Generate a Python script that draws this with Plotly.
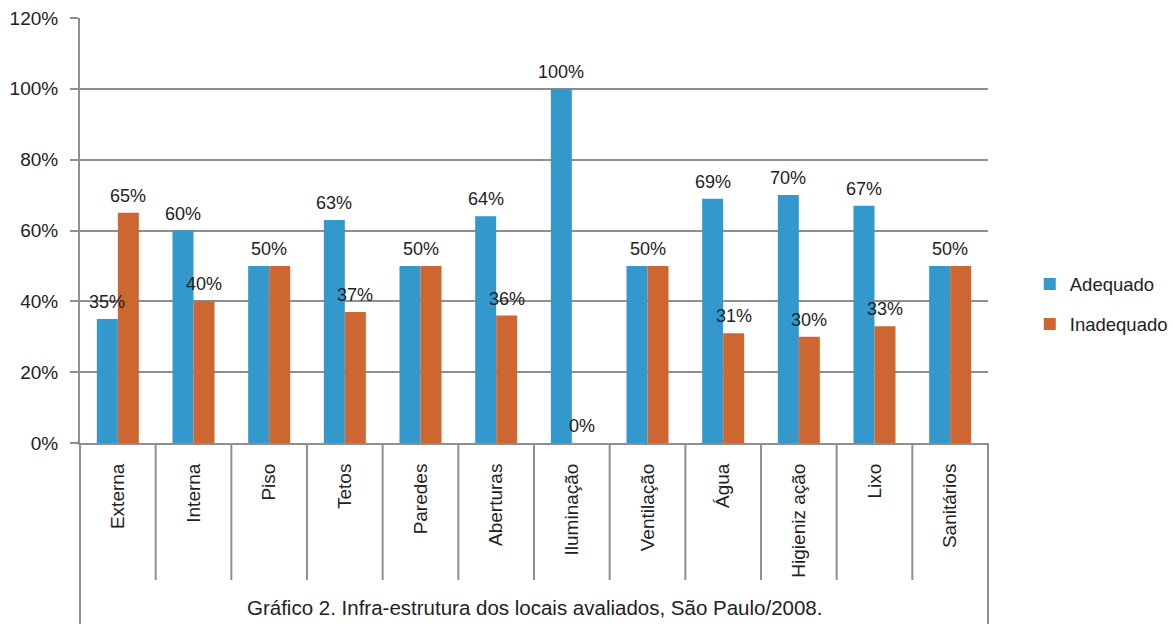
import plotly.graph_objects as go

categories = ["Externa", "Interna", "Piso", "Tetos", "Paredes", "Aberturas", "Iluminação",
              "Ventilação", "Água", "Higieniz ação", "Lixo", "Sanitários"]
adequado = [35, 60, 50, 63, 50, 64, 100, 50, 69, 70, 67, 50]
inadequado = [65, 40, 50, 37, 50, 36, 0, 50, 31, 30, 33, 50]
series_names = ["Adequado", "Inadequado"]
y_ticks = [0, 20, 40, 60, 80, 100, 120]
y_tick_labels = [f"{v}%" for v in y_ticks]
caption = "Gráfico 2. Infra-estrutura dos locais avaliados, São Paulo/2008."

BLUE = "#3398CB"
ORANGE = "#CD6631"
GRID = "#8F8F8F"
TXT = "#222222"
FONT = "Liberation Sans, Arial, sans-serif"
FS = 19

fig = go.Figure()
fig.add_trace(go.Bar(x=categories, y=adequado, name=series_names[0], marker_color=BLUE,
                     marker_line_width=0, legendgroup="a"))
fig.add_trace(go.Bar(x=categories, y=inadequado, name=series_names[1], marker_color=ORANGE,
                     marker_line_width=0, legendgroup="b"))

# plot geometry (pixels)
L, R, T, B = 80, 184, 18, 181
W = 1172 - L - R
H = 624 - T - B
BARGAP = 0.445
cat_w = W / len(categories)
bar_w = cat_w * (1 - BARGAP) / 2

lab_font = dict(size=18, color=TXT, family=FONT)
LSHIFT = 17
annotations = []
for i, c in enumerate(categories):
    a, b = adequado[i], inadequado[i]
    if a == b:
        annotations.append(dict(x=c, y=a, text=f"{a}%", showarrow=False, xref="x", yref="y",
                                yanchor="middle", yshift=LSHIFT, font=lab_font))
    else:
        annotations.append(dict(x=c, y=a, text=f"{a}%", showarrow=False, xref="x", yref="y",
                                xshift=-bar_w / 2, yanchor="middle", yshift=LSHIFT, font=lab_font))
        annotations.append(dict(x=c, y=b, text=f"{b}%", showarrow=False, xref="x", yref="y",
                                xshift=bar_w / 2, yanchor="middle", yshift=LSHIFT, font=lab_font))

annotations.append(dict(x=0.5, y=-(607 - (T + H)) / H, xref="paper", yref="paper", text=caption,
                        showarrow=False, yanchor="middle", xanchor="center",
                        font=dict(size=20.5, color=TXT, family=FONT)))

shapes = []
sep_len = 137 / H
for i in range(len(categories) - 1):
    shapes.append(dict(type="line", xref="x", yref="paper", x0=i + 0.5, x1=i + 0.5,
                       y0=0, y1=-sep_len, line=dict(color=GRID, width=2)))
for xp in (0, 1):
    shapes.append(dict(type="line", xref="paper", yref="paper", x0=xp, x1=xp,
                       y0=0, y1=-0.6, line=dict(color=GRID, width=2)))

fig.update_layout(
    width=1172, height=624,
    margin=dict(l=L, r=R, t=T, b=B, autoexpand=False),
    paper_bgcolor="white", plot_bgcolor="white",
    barmode="group", bargap=BARGAP, bargroupgap=0,
    font=dict(family=FONT, size=FS, color=TXT),
    showlegend=True,
    legend=dict(x=1.046, y=0.326, xanchor="left", yanchor="middle", tracegroupgap=13,
                traceorder="grouped", font=dict(size=18.5, color=TXT, family=FONT),
                itemwidth=30, bgcolor="rgba(0,0,0,0)"),
    annotations=annotations,
    shapes=shapes,
    xaxis=dict(type="category", tickangle=-90, showline=True, linecolor=GRID, linewidth=2,
               ticks="", showgrid=False, tickfont=dict(size=FS, color=TXT, family=FONT),
               ticklabelstandoff=11, automargin=False),
    yaxis=dict(range=[0, 120], tickvals=y_ticks, ticktext=y_tick_labels, showgrid=True,
               gridcolor=GRID, gridwidth=2, zeroline=False, showline=True, linecolor=GRID,
               linewidth=2, ticks="outside", ticklen=8, tickwidth=2, tickcolor=GRID,
               ticklabelstandoff=8, tickfont=dict(size=FS, color=TXT, family=FONT),
               automargin=False),
)

fig.write_html("out.html")
